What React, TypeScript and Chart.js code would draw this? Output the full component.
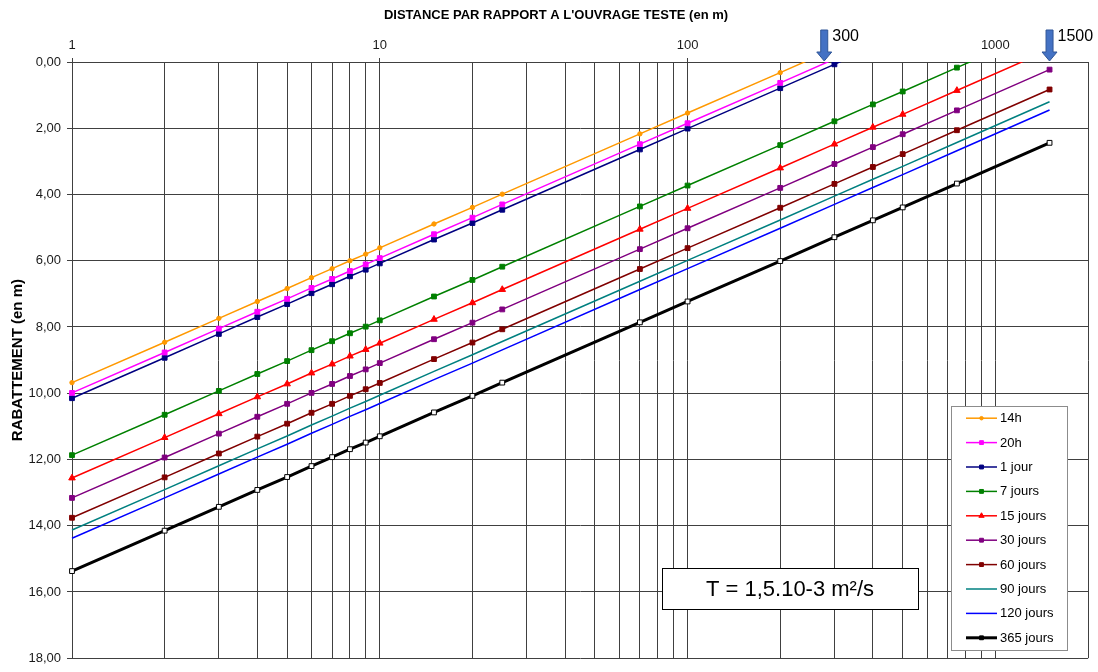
import React, { useEffect, useRef } from 'react';
import { Chart, registerables } from 'chart.js';

Chart.register(...registerables);

const X_TITLE = "DISTANCE PAR RAPPORT A L'OUVRAGE TESTE (en m)";
const Y_TITLE = 'RABATTEMENT (en m)';
const NOTE_TEXT = 'T = 1,5.10-3 m²/s';

// distances (m) where the curves carry points
const DISTANCES = [1, 2, 3, 4, 5, 6, 7, 8, 9, 10, 15, 20, 25, 70, 100, 200, 300, 400, 500, 750, 1500];

// drawdown (m) per duration
const S_14H = [9.68, 8.46, 7.74, 7.23, 6.84, 6.51, 6.24, 6.0, 5.8, 5.61, 4.89, 4.39, 3.99, 2.17, 1.54, 0.32, -0.4];
const S_20H = [9.99, 8.77, 8.05, 7.54, 7.15, 6.82, 6.55, 6.31, 6.11, 5.92, 5.2, 4.7, 4.3, 2.48, 1.85, 0.63, -0.09];
const S_1J = [10.15, 8.93, 8.21, 7.7, 7.31, 6.98, 6.71, 6.47, 6.27, 6.08, 5.36, 4.86, 4.46, 2.64, 2.01, 0.79, 0.07, -0.44];
const S_7J = [11.87, 10.65, 9.93, 9.42, 9.03, 8.7, 8.43, 8.19, 7.99, 7.8, 7.08, 6.58, 6.18, 4.36, 3.73, 2.51, 1.79, 1.28, 0.89, 0.17, -1.06];
const S_15J = [12.56, 11.34, 10.62, 10.11, 9.72, 9.39, 9.12, 8.88, 8.68, 8.49, 7.77, 7.27, 6.87, 5.05, 4.42, 3.2, 2.48, 1.97, 1.58, 0.86, -0.37];
const S_30J = [13.16, 11.94, 11.22, 10.71, 10.32, 9.99, 9.72, 9.48, 9.28, 9.09, 8.37, 7.87, 7.47, 5.65, 5.02, 3.8, 3.08, 2.57, 2.18, 1.46, 0.23];
const S_60J = [13.76, 12.54, 11.82, 11.31, 10.92, 10.59, 10.32, 10.08, 9.88, 9.69, 8.97, 8.47, 8.07, 6.25, 5.62, 4.4, 3.68, 3.17, 2.78, 2.06, 0.83];
const S_90J = [14.13, 12.91, 12.19, 11.68, 11.29, 10.96, 10.69, 10.45, 10.25, 10.06, 9.34, 8.84, 8.44, 6.62, 5.99, 4.77, 4.05, 3.54, 3.15, 2.43, 1.2];
const S_120J = [14.38, 13.16, 12.44, 11.93, 11.54, 11.21, 10.94, 10.7, 10.5, 10.31, 9.59, 9.09, 8.69, 6.87, 6.24, 5.02, 4.3, 3.79, 3.4, 2.68, 1.45];
const S_365J = [15.37, 14.15, 13.43, 12.92, 12.53, 12.2, 11.93, 11.69, 11.49, 11.3, 10.58, 10.08, 9.68, 7.86, 7.23, 6.01, 5.29, 4.78, 4.39, 3.67, 2.44];

const SERIES_LABELS = ['14h', '20h', '1 jour', '7 jours', '15 jours', '30 jours', '60 jours', '90 jours', '120 jours', '365 jours'];
const SERIES_VALUES = [S_14H, S_20H, S_1J, S_7J, S_15J, S_30J, S_60J, S_90J, S_120J, S_365J];
const SERIES_COLORS = ['#FF9900', '#FF00FF', '#000080', '#008000', '#FF0000', '#800080', '#800000', '#008080', '#0000FF', '#000000'];
const SERIES_MARKERS = ['circle', 'rect', 'rect', 'rect', 'triangle', 'rect', 'rect', 'none', 'none', 'rect'];
const SERIES_WIDTHS = [1.5, 1.5, 1.5, 1.5, 1.5, 1.5, 1.5, 1.5, 1.5, 3];

const X_GRID_VALUES = [1, 2, 3, 4, 5, 6, 7, 8, 9, 10, 20, 30, 40, 50, 60, 70, 80, 90, 100, 200, 300, 400, 500, 600, 700, 800, 900, 1000, 2000];
const X_LABELLED = [1, 10, 100, 1000];
const X_MIN = 1;
const X_MAX = 2000;
const Y_MIN = 0;
const Y_MAX = 18;
const Y_STEP = 2;

const ARROW_VALUES = [278, 1500];
const ARROW_LABELS = ['300', '1500'];

const FONT = '"Liberation Sans", Arial, sans-serif';
const GRID = '#404040';

function markerRadius(style: string) {
  if (style === 'circle') return 2.2;
  if (style === 'triangle') return 3.8;
  if (style === 'rect') return 3.4;
  return 0;
}

function drawMarker(ctx: CanvasRenderingContext2D, style: string, x: number, y: number, r: number, fill: string, stroke: string) {
  if (style === 'none') return;
  ctx.beginPath();
  if (style === 'circle') {
    ctx.arc(x, y, r, 0, Math.PI * 2);
  } else if (style === 'rect') {
    const s = r * Math.SQRT1_2;
    ctx.rect(x - s, y - s, 2 * s, 2 * s);
  } else if (style === 'triangle') {
    ctx.moveTo(x, y - r);
    ctx.lineTo(x + r * 0.866, y + r * 0.5);
    ctx.lineTo(x - r * 0.866, y + r * 0.5);
    ctx.closePath();
  }
  ctx.fillStyle = fill;
  ctx.fill();
  ctx.lineWidth = 1;
  ctx.strokeStyle = stroke;
  ctx.stroke();
}

const decorPlugin = {
  id: 'decor',
  afterDraw(chart: any) {
    const { ctx, chartArea } = chart;
    const xs = chart.scales.x;
    ctx.save();

    // top title
    ctx.font = `bold 13px ${FONT}`;
    ctx.fillStyle = '#000';
    ctx.textAlign = 'center';
    ctx.textBaseline = 'middle';
    ctx.fillText(X_TITLE, chart.width / 2 + 7, 15);

    // arrows
    ARROW_VALUES.forEach((v, i) => {
      const px = xs.getPixelForValue(v);
      const tip = chartArea.top - 1;
      ctx.beginPath();
      ctx.moveTo(px - 3.5, tip - 31);
      ctx.lineTo(px + 3.5, tip - 31);
      ctx.lineTo(px + 3.5, tip - 9);
      ctx.lineTo(px + 7.5, tip - 9);
      ctx.lineTo(px, tip);
      ctx.lineTo(px - 7.5, tip - 9);
      ctx.lineTo(px - 3.5, tip - 9);
      ctx.closePath();
      ctx.fillStyle = '#4472C4';
      ctx.fill();
      ctx.strokeStyle = '#2F5597';
      ctx.lineWidth = 1;
      ctx.stroke();
      ctx.font = `16px ${FONT}`;
      ctx.fillStyle = '#000';
      ctx.textAlign = 'left';
      ctx.textBaseline = 'middle';
      ctx.fillText(ARROW_LABELS[i], px + 8, chartArea.top - 25);
    });

    // note box
    const nbR = chartArea.right - 170;
    const nbB = chartArea.bottom - 49;
    const nbW = 256;
    const nbH = 41;
    ctx.fillStyle = '#fff';
    ctx.fillRect(nbR - nbW, nbB - nbH, nbW, nbH);
    ctx.strokeStyle = '#000';
    ctx.lineWidth = 1;
    ctx.strokeRect(Math.round(nbR - nbW) + 0.5, Math.round(nbB - nbH) + 0.5, nbW, nbH);
    ctx.font = `22px ${FONT}`;
    ctx.fillStyle = '#000';
    ctx.textAlign = 'center';
    ctx.textBaseline = 'middle';
    ctx.fillText(NOTE_TEXT, nbR - nbW / 2, nbB - nbH / 2 + 1);

    // legend
    const lgR = chartArea.right - 21;
    const lgB = chartArea.bottom - 8;
    const lgW = 116;
    const lgH = 244;
    const lgL = lgR - lgW;
    const lgT = lgB - lgH;
    ctx.fillStyle = '#fff';
    ctx.fillRect(lgL, lgT, lgW, lgH);
    ctx.strokeStyle = '#8c8c8c';
    ctx.strokeRect(Math.round(lgL) + 0.5, Math.round(lgT) + 0.5, lgW, lgH);
    SERIES_LABELS.forEach((label, i) => {
      const y = lgT + 12 + i * 24.4;
      const color = SERIES_COLORS[i];
      ctx.beginPath();
      ctx.moveTo(lgL + 15, y);
      ctx.lineTo(lgL + 46, y);
      ctx.strokeStyle = color;
      ctx.lineWidth = SERIES_WIDTHS[i];
      ctx.stroke();
      const m = SERIES_MARKERS[i];
      const fill = i === 9 ? '#000' : color;
      drawMarker(ctx, m, lgL + 30.5, y, markerRadius(m) * 0.8, fill, color);
      ctx.font = `13px ${FONT}`;
      ctx.fillStyle = '#000';
      ctx.textAlign = 'left';
      ctx.textBaseline = 'middle';
      ctx.fillText(label, lgL + 49, y + 0.5);
    });

    ctx.restore();
  },
};

export default function App() {
  const canvasRef = useRef<HTMLCanvasElement | null>(null);

  useEffect(() => {
    const canvas = canvasRef.current;
    if (!canvas) return;
    Chart.defaults.font.family = FONT;
    Chart.defaults.font.size = 13;
    Chart.defaults.color = '#1a1a1a';

    const datasets = SERIES_LABELS.map((label, i) => {
      const m = SERIES_MARKERS[i];
      const color = SERIES_COLORS[i];
      return {
        label,
        data: SERIES_VALUES[i].map((y, j) => ({ x: DISTANCES[j], y })),
        borderColor: color,
        backgroundColor: color,
        borderWidth: SERIES_WIDTHS[i],
        pointStyle: m === 'none' ? false : m,
        pointRadius: markerRadius(m),
        pointHoverRadius: markerRadius(m),
        pointBorderWidth: 1,
        pointBorderColor: color,
        pointBackgroundColor: i === 9 ? '#ffffff' : color,
        tension: 0,
        clip: { left: 8, top: 0, right: 8, bottom: 0 },
      };
    });

    const chart = new Chart(canvas, {
      type: 'line',
      data: { datasets } as any,
      options: {
        responsive: false,
        animation: false,
        layout: { padding: { left: 0, top: 0, right: 10, bottom: 11 } },
        plugins: {
          legend: { display: false },
          tooltip: { enabled: false },
          title: { display: false },
        },
        scales: {
          x: {
            type: 'logarithmic',
            position: 'top',
            min: X_MIN,
            max: X_MAX,
            afterBuildTicks: (scale: any) => {
              scale.ticks = X_GRID_VALUES.map((v) => ({ value: v }));
            },
            afterFit: (scale: any) => {
              scale.height = 62;
            },
            ticks: {
              autoSkip: false,
              maxRotation: 0,
              padding: 5,
              color: '#1a1a1a',
              font: { size: 13 },
              callback: (value: any) => (X_LABELLED.includes(Number(value)) ? String(value) : ''),
            },
            grid: {
              color: GRID,
              lineWidth: 1,
              tickLength: 4,
              tickColor: (c: any) => (c.tick && X_LABELLED.includes(c.tick.value) ? GRID : 'rgba(0,0,0,0)'),
            },
            border: { display: true, color: GRID },
          },
          y: {
            type: 'linear',
            reverse: true,
            min: Y_MIN,
            max: Y_MAX,
            afterFit: (scale: any) => {
              scale.width = 72;
            },
            ticks: {
              stepSize: Y_STEP,
              padding: 6,
              color: '#1a1a1a',
              font: { size: 13 },
              callback: (value: any) => Number(value).toFixed(2).replace('.', ','),
            },
            grid: { color: GRID, lineWidth: 1, tickLength: 5, tickColor: GRID },
            border: { display: true, color: GRID },
            title: {
              display: true,
              text: Y_TITLE,
              color: '#000',
              font: { size: 15, weight: 'bold' },
              padding: { top: 9, bottom: 0 },
            },
          },
        },
      } as any,
      plugins: [decorPlugin],
    });

    return () => {
      chart.destroy();
    };
  }, []);

  return (
    <div style={{ position: 'fixed', left: 0, top: 0, width: 1098, height: 672, background: '#fff' }}>
      <canvas ref={canvasRef} width={1098} height={672} style={{ display: 'block' }} />
    </div>
  );
}
